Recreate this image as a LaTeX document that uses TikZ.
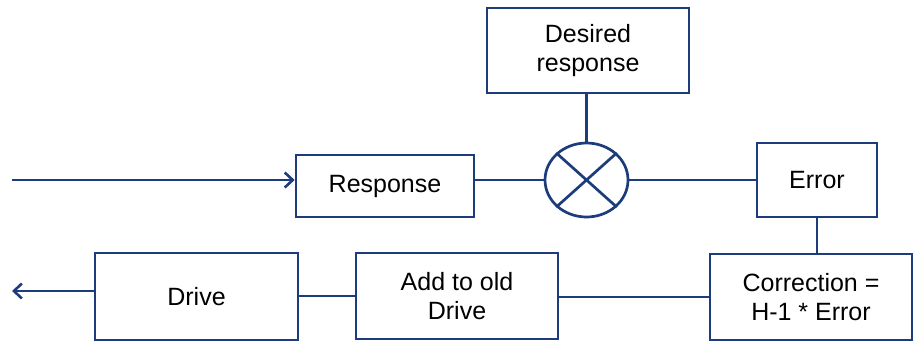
\documentclass[tikz,border=0pt]{standalone}
\usepackage{fontspec}
\setmainfont{Liberation Sans}
\usetikzlibrary{arrows.meta,shapes.geometric}
\definecolor{navy}{HTML}{1C3C7C}
\begin{document}
\begin{tikzpicture}[x=1pt,y=-1pt,
  box/.style={draw=navy,line width=2.7pt,inner sep=0pt,align=center,
    font=\fontsize{25}{29}\selectfont,text=black},
  link/.style={draw=navy,line width=2.7pt},
  arr/.style={link,-{Straight Barb[length=8pt,width=15pt,line width=2.6pt]}}]
\useasboundingbox (0,0) rectangle (913,343);
\node[box,minimum width=202pt,minimum height=85pt] (des) at (588,50.5) {Desired\\response};
\node[box,minimum width=178pt,minimum height=62pt] (resp) at (385,186) {Response};
\node[draw=navy,line width=2.7pt,ellipse,inner sep=0pt,minimum width=83pt,minimum height=74pt] (sum) at (586.5,180) {};
\draw[link] (sum.north east) -- (sum.south west);
\draw[link] (sum.north west) -- (sum.south east);
\node[box,minimum width=120pt,minimum height=74pt] (err) at (817,180) {Error};
\node[box,minimum width=202pt,minimum height=86pt] (corr) at (811,297) {Correction =\\H-1 * Error};
\node[box,minimum width=202pt,minimum height=86pt] (add) at (457,296) {Add to old\\Drive};
\node[box,minimum width=203pt,minimum height=87pt] (drv) at (196.5,296.5) {Drive};
\coordinate (in) at (12,180);
\coordinate (out) at (12,291);
\draw[arr] (in) -- (in -| resp.west);
\draw[link] (resp.east |- sum.west) -- (sum.west);
\draw[link] (sum.north) -- (sum.north |- des.south);
\draw[link] (sum.east) -- (err.west);
\draw[link] (err.south) -- (err.south |- corr.north);
\draw[link] (corr.west) -- (corr.west -| add.east);
\draw[link] (add.west) -- (add.west -| drv.east);
\draw[arr] (drv.west |- out) -- (out);
\end{tikzpicture}
\end{document}
